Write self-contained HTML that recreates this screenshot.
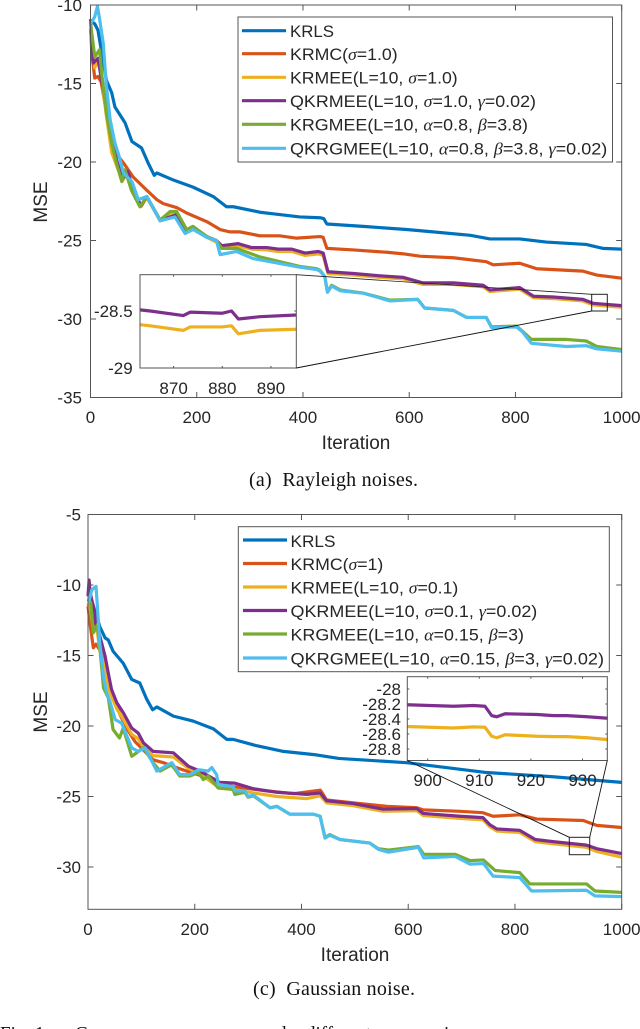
<!DOCTYPE html>
<html lang="en">
<head>
<meta charset="utf-8">
<title>MSE convergence curves</title>
<style>
html,body{margin:0;padding:0;background:#fff;width:640px;height:1029px;overflow:hidden}
svg{display:block;filter:blur(.3px)}
text{font-family:"Liberation Sans",sans-serif;fill:#262626;font-size:17px}
.g{font-family:"Liberation Serif",serif;font-style:italic}
.cap{font-family:"Liberation Serif",serif;font-size:20px;fill:#111}
.foot{font-family:"Liberation Serif",serif;font-size:19px;fill:#111}
.lab{font-size:19px}
</style>
</head>
<body>
<svg id="root" xmlns="http://www.w3.org/2000/svg" width="640" height="1029" viewBox="0 0 640 1029">
  <g id="chartA"></g>
  <g id="chartC"></g>

  <g>
    <rect x="238" y="17" width="374.5" height="145" fill="#fff" stroke="#555" stroke-width="1"/>
    <line x1="242" x2="286" y1="30.7" y2="30.7" stroke="#0072BD" stroke-width="3.2"/>
    <line x1="242" x2="286" y1="53.7" y2="53.7" stroke="#D95319" stroke-width="3.2"/>
    <line x1="242" x2="286" y1="77.3" y2="77.3" stroke="#EDB120" stroke-width="3.2"/>
    <line x1="242" x2="286" y1="100.7" y2="100.7" stroke="#7E2F8E" stroke-width="3.2"/>
    <line x1="242" x2="286" y1="124.3" y2="124.3" stroke="#77AC30" stroke-width="3.2"/>
    <line x1="242" x2="286" y1="148.3" y2="148.3" stroke="#4DBEEE" stroke-width="3.2"/>
    <text x="290" y="37" textLength="44" lengthAdjust="spacingAndGlyphs">KRLS</text>
    <text x="290" y="60" textLength="107.7" lengthAdjust="spacingAndGlyphs">KRMC(<tspan class="g">σ</tspan>=1.0)</text>
    <text x="290" y="83.6" textLength="167.7" lengthAdjust="spacingAndGlyphs">KRMEE(L=10, <tspan class="g">σ</tspan>=1.0)</text>
    <text x="290" y="107" textLength="246" lengthAdjust="spacingAndGlyphs">QKRMEE(L=10, <tspan class="g">σ</tspan>=1.0, <tspan class="g">γ</tspan>=0.02)</text>
    <text x="290" y="130.6" textLength="238" lengthAdjust="spacingAndGlyphs">KRGMEE(L=10, <tspan class="g">α</tspan>=0.8, <tspan class="g">β</tspan>=3.8)</text>
    <text x="290" y="154.6" textLength="317.3" lengthAdjust="spacingAndGlyphs">QKRGMEE(L=10, <tspan class="g">α</tspan>=0.8, <tspan class="g">β</tspan>=3.8, <tspan class="g">γ</tspan>=0.02)</text>
  </g>

  <g>
    <rect x="238.3" y="526.7" width="371" height="145" fill="#fff" stroke="#555" stroke-width="1"/>
    <line x1="243" x2="287" y1="540" y2="540" stroke="#0072BD" stroke-width="3.2"/>
    <line x1="243" x2="287" y1="563.5" y2="563.5" stroke="#D95319" stroke-width="3.2"/>
    <line x1="243" x2="287" y1="587" y2="587" stroke="#EDB120" stroke-width="3.2"/>
    <line x1="243" x2="287" y1="610.5" y2="610.5" stroke="#7E2F8E" stroke-width="3.2"/>
    <line x1="243" x2="287" y1="634" y2="634" stroke="#77AC30" stroke-width="3.2"/>
    <line x1="243" x2="287" y1="658" y2="658" stroke="#4DBEEE" stroke-width="3.2"/>
    <text x="290.5" y="547" textLength="45" lengthAdjust="spacingAndGlyphs">KRLS</text>
    <text x="290.5" y="570" textLength="92.8" lengthAdjust="spacingAndGlyphs">KRMC(<tspan class="g">σ</tspan>=1)</text>
    <text x="290.5" y="593.6" textLength="167.8" lengthAdjust="spacingAndGlyphs">KRMEE(L=10, <tspan class="g">σ</tspan>=0.1)</text>
    <text x="290.5" y="617" textLength="246.8" lengthAdjust="spacingAndGlyphs">QKRMEE(L=10, <tspan class="g">σ</tspan>=0.1, <tspan class="g">γ</tspan>=0.02)</text>
    <text x="290.5" y="640.6" textLength="233.5" lengthAdjust="spacingAndGlyphs">KRGMEE(L=10, <tspan class="g">α</tspan>=0.15, <tspan class="g">β</tspan>=3)</text>
    <text x="290.5" y="664.4" textLength="313.5" lengthAdjust="spacingAndGlyphs">QKRGMEE(L=10, <tspan class="g">α</tspan>=0.15, <tspan class="g">β</tspan>=3, <tspan class="g">γ</tspan>=0.02)</text>
  </g>

  <text class="lab" x="356" y="449" text-anchor="middle">Iteration</text>
  <text class="lab" transform="translate(47,202) rotate(-90)" text-anchor="middle">MSE</text>
  <text class="lab" x="355" y="961" text-anchor="middle">Iteration</text>
  <text class="lab" transform="translate(47,712) rotate(-90)" text-anchor="middle">MSE</text>

  <text class="cap" x="249" y="486" textLength="169" xml:space="preserve">(a)  Rayleigh noises.</text>
  <text class="cap" x="253" y="995" textLength="162" xml:space="preserve">(c)  Gaussian noise.</text>

  <g>
    <text class="foot" x="0" y="1039.5">Fig. 1.</text>
    <text class="foot" x="75" y="1039.5">Convergence</text>
    <text class="foot" x="185" y="1039.5">curves</text>
    <text class="foot" x="258" y="1039.5">under</text>
    <text class="foot" x="306" y="1039.5">different</text>
    <text class="foot" x="425" y="1039.5">noises</text>
  </g>
</svg>

<script>
/* ---------- Rayleigh chart data ---------- */
const aXTicks = [0,200,400,600,800,1000];
const aYTicks = [-10,-15,-20,-25,-30,-35];

const aIterKRLS = [0,8,14,22,30,40,46,65,78,96,109,120,125,156,193,231,256,269,319,344,394,432,439,445,513,595,645,715,752,808,858,933,964,1000];
const aMseKRLS = [-11,-11.2,-11.6,-13.2,-14.8,-15.6,-16.5,-17.5,-18.7,-19.1,-20.1,-20.85,-20.7,-21.15,-21.6,-22.2,-22.85,-22.85,-23.2,-23.3,-23.5,-23.55,-23.6,-23.95,-24.1,-24.3,-24.45,-24.67,-24.9,-24.9,-25.1,-25.25,-25.5,-25.55];

const aIterKRMC = [0,3,8,14,20,30,40,46,65,80,106,125,137,162,181,219,244,262,281,319,356,388,432,438,445,495,558,589,620,683,745,758,808,840,927,953,1000];
const aMseKRMC = [-11.5,-13.2,-14.65,-14.55,-14.9,-16.8,-18.6,-19.35,-20.2,-20.95,-21.8,-22.4,-22.65,-22.9,-23.25,-23.8,-24.3,-24.45,-24.45,-24.7,-24.7,-24.85,-24.75,-24.8,-25.5,-25.6,-25.75,-25.85,-26,-26.1,-26.35,-26.55,-26.45,-26.8,-26.95,-27.2,-27.4];

const aIterKRMEE = [0,4,8,14,18,24,30,40,50,60,70,80,95,106,131,150,162,181,193,219,237,247,278,303,332,353,379,404,429,438,447,495,545,589,626,683,739,752,808,834,871,927,946,1000];
const aMseKRMEE = [-11.5,-13,-14,-13.6,-13.9,-15.5,-17.1,-19.4,-20.3,-21.2,-20.7,-21.9,-22.85,-22.25,-23.75,-23.3,-23.25,-24.35,-24.15,-24.8,-25.1,-25.5,-25.35,-25.55,-25.6,-25.7,-25.7,-25.95,-25.85,-25.95,-27.1,-27.2,-27.35,-27.45,-27.8,-27.8,-27.95,-28.25,-28.1,-28.65,-28.7,-28.85,-29.1,-29.25];

const aIterQKRMEE = [0,5,14,21,30,40,50,60,70,80,95,106,131,150,162,181,193,219,237,247,278,303,332,353,379,404,429,438,447,451,495,545,589,626,683,739,752,808,834,871,927,946,1000];
const aMseQKRMEE = [-10.9,-13.7,-13.4,-14.8,-16.4,-18.7,-20,-21.1,-20.6,-21.7,-22.8,-22.2,-23.7,-23.5,-23.35,-24.35,-24.15,-24.75,-25,-25.33,-25.2,-25.45,-25.45,-25.55,-25.55,-25.8,-25.7,-25.8,-27,-27,-27.1,-27.25,-27.35,-27.7,-27.7,-27.85,-28.15,-28,-28.55,-28.6,-28.75,-29,-29.15];

const aIterKRGMEE = [0,8,17,21,30,40,49,59,65,77,93,106,131,150,162,181,193,219,237,247,275,319,394,426,432,441,446,454,470,513,564,616,629,683,708,745,755,802,814,830,896,933,953,1000];
const aMseKRGMEE = [-11.15,-13.3,-12.85,-14.35,-16.9,-18.8,-20.1,-21.25,-20.5,-21.8,-22.85,-22.2,-23.7,-23.15,-23.15,-24.3,-24.1,-24.75,-25,-25.5,-25.5,-26.05,-26.65,-26.8,-26.9,-27.3,-28.25,-27.85,-28.15,-28.35,-28.8,-28.75,-29.3,-29.45,-29.9,-29.9,-30.5,-30.45,-30.8,-31.3,-31.3,-31.4,-31.75,-31.95];

const aIterQKRGMEE = [0,2,8,13,17,24,30,37,46,54,62,78,90,106,131,159,178,193,219,237,244,275,306,394,426,432,441,446,454,470,513,564,616,629,683,708,745,755,802,814,830,896,933,953,1000];
const aMseQKRGMEE = [-11,-11.1,-10.75,-10.1,-10.85,-12.45,-15.2,-17.3,-18.8,-19.65,-20.7,-21.25,-22.4,-22.2,-23.75,-23.5,-24.55,-24.3,-24.8,-25,-25.9,-25.7,-26.15,-26.7,-26.85,-26.95,-27.3,-28.3,-27.9,-28.2,-28.35,-28.85,-28.75,-29.3,-29.45,-29.9,-29.9,-30.55,-30.5,-30.85,-31.55,-31.75,-31.7,-31.9,-32.05];

const aInsetXTicks = [870,880,890];
const aInsetYTicks = [-28.5,-29];
const aInsetIter = [863.1,865.2,872,873.4,879.9,881.9,883.3,887.7,895.2];
const aInsetQKRMEE = [-28.49,-28.5,-28.54,-28.51,-28.52,-28.5,-28.57,-28.55,-28.535];
const aInsetKRMEE = [-28.62,-28.63,-28.67,-28.64,-28.64,-28.63,-28.7,-28.67,-28.66];

/* ---------- Gaussian chart data ---------- */
const cXTicks = [0,200,400,600,800,1000];
const cYTicks = [-5,-10,-15,-20,-25,-30];

const cIterKRLS = [0,8,15,22,32,38,47,66,82,97,110,121,129,160,197,235,260,272,316,366,428,470,597,747,871,1000];
const cMseKRLS = [-11,-11.5,-12,-12.95,-13.75,-13.9,-14.7,-15.55,-16.7,-16.95,-18.1,-18.85,-18.65,-19.3,-19.65,-20.2,-20.95,-20.95,-21.4,-21.8,-22.05,-22.3,-22.6,-23.3,-23.6,-24];

const cIterKRMC = [0,4,10,15,22,32,44,60,73,88,122,141,166,185,210,247,272,335,385,435,438,447,497,560,616,628,697,740,759,809,841,928,953,1000];
const cMseKRMC = [-11.5,-12.8,-14.45,-14.2,-14.6,-15.8,-17.6,-19.2,-20.2,-21.1,-22.4,-22.6,-22.95,-23.2,-23.5,-24.15,-24.3,-24.6,-24.8,-24.55,-24.7,-25.25,-25.45,-25.7,-25.8,-25.95,-26.05,-26.15,-26.4,-26.3,-26.6,-26.7,-27.05,-27.2];

const cIterKRMEE = [0,5,10,15,22,32,41,54,66,82,94,104,122,160,188,210,247,272,310,354,410,435,447,497,553,616,628,697,740,753,766,809,838,871,934,953,1000];
const cMseKRMEE = [-11.3,-11.8,-13.2,-12.6,-14.6,-16,-17.6,-18.8,-19.5,-20.6,-20.9,-21.5,-22.1,-22.2,-23,-23.4,-24.4,-24.5,-24.75,-25,-25.15,-24.95,-25.45,-25.65,-26.05,-26,-26.35,-26.55,-26.65,-27.15,-27.45,-27.55,-28.2,-28.35,-28.6,-28.9,-29.3];

const cIterQKRMEE = [0,2,4,8,12,14,22,32,38,44,54,66,82,94,104,122,160,188,210,247,275,310,354,410,435,447,497,553,616,628,697,740,753,766,809,838,871,934,953,1000];
const cMseQKRMEE = [-10.8,-9.65,-10.55,-11.2,-11.75,-12.7,-13.6,-15.05,-16.25,-17.4,-18.35,-19.05,-20.15,-20.5,-21.2,-21.8,-21.9,-22.85,-23.2,-24,-24.05,-24.45,-24.7,-24.85,-24.75,-25.3,-25.5,-25.9,-25.85,-26.2,-26.4,-26.5,-27,-27.3,-27.4,-28.05,-28.2,-28.45,-28.7,-29.05];

const cIterKRGMEE = [0,5,10,18,26,29,38,47,59,66,82,104,122,135,157,172,191,207,216,225,244,272,275,294,300,310,341,354,378,422,435,444,453,472,528,544,563,619,629,688,716,741,763,809,828,934,950,1000];
const cMseKRGMEE = [-11,-11.25,-13.4,-12.8,-16,-17.3,-18,-20.25,-20.85,-20.15,-22.15,-21.55,-22.6,-23.2,-22.75,-23.55,-23.55,-23.3,-23.8,-23.55,-24.4,-24.5,-24.85,-24.7,-25.05,-24.95,-25.8,-25.7,-26.25,-26.25,-26.4,-27.9,-27.7,-28.05,-28.3,-28.7,-28.8,-28.55,-29.1,-29.1,-29.55,-29.5,-30.25,-30.4,-31.2,-31.2,-31.7,-31.8];

const cIterQKRGMEE = [0,2,7,15,18,22,29,35,41,51,63,82,94,107,129,157,172,191,207,225,232,241,244,272,275,294,300,310,341,354,378,422,435,444,453,472,528,544,563,619,629,688,716,741,759,809,831,934,950,1000];
const cMseQKRGMEE = [-11.2,-11.15,-10.35,-10.1,-11.75,-14.1,-16.5,-17.65,-18.25,-19.55,-19.8,-21.55,-21.8,-21.55,-23.2,-22.6,-23.45,-23.45,-23.1,-23.2,-22.95,-23.45,-24.15,-24.3,-24.6,-24.6,-25,-24.9,-25.8,-25.7,-26.25,-26.25,-26.4,-27.95,-27.75,-28.05,-28.3,-28.75,-28.95,-28.6,-29.35,-29.25,-29.8,-29.75,-30.65,-30.75,-31.7,-31.65,-32.05,-32.1];

const cInsetXTicks = [900,910,920,930];
const cInsetYTicks = [-28,-28.2,-28.4,-28.6,-28.8];
const cInsetIter = [896,900.4,905,908.9,911.1,912.4,913.4,915,921.2,924.4,927,930.9,934.9];
const cInsetQKRMEE = [-28.21,-28.22,-28.23,-28.22,-28.23,-28.355,-28.37,-28.33,-28.34,-28.355,-28.355,-28.37,-28.39];
const cInsetKRMEE = [-28.5,-28.51,-28.52,-28.505,-28.51,-28.63,-28.65,-28.61,-28.63,-28.635,-28.635,-28.65,-28.675];

/* ---------- Drawing ---------- */
const NS = 'http://www.w3.org/2000/svg';
const AXIS = '#555';
const LW = 3.2;

function scale(d0, d1, p0, p1) {
  return function (v) { return p0 + (v - d0) * (p1 - p0) / (d1 - d0); };
}
function make(parent, tag) {
  const el = document.createElementNS(NS, tag);
  parent.appendChild(el);
  return el;
}
function seg(parent, x1, y1, x2, y2, color, width) {
  const el = make(parent, 'line');
  el.setAttribute('x1', x1); el.setAttribute('y1', y1);
  el.setAttribute('x2', x2); el.setAttribute('y2', y2);
  el.setAttribute('stroke', color); el.setAttribute('stroke-width', width);
  return el;
}
function label(parent, x, y, anchor, str) {
  const el = make(parent, 'text');
  el.setAttribute('x', x); el.setAttribute('y', y);
  el.setAttribute('text-anchor', anchor);
  el.textContent = str;
  return el;
}
function curve(parent, xs, ys, sx, sy, color, width) {
  const el = make(parent, 'polyline');
  el.setAttribute('points', xs.map(function (v, i) { return sx(v).toFixed(2) + ',' + sy(ys[i]).toFixed(2); }).join(' '));
  el.setAttribute('fill', 'none');
  el.setAttribute('stroke', color);
  el.setAttribute('stroke-width', width);
  el.setAttribute('stroke-linejoin', 'round');
  return el;
}
function axes(parent, box, sx, sy, xt, yt, tickLen, xLabelY, yLabelX) {
  const frame = make(parent, 'rect');
  
  
  frame.setAttribute('x', box.l); frame.setAttribute('y', box.t);
  frame.setAttribute('width', box.r - box.l); frame.setAttribute('height', box.b - box.t);
  frame.setAttribute('fill', 'none'); frame.setAttribute('stroke', AXIS); frame.setAttribute('stroke-width', 1);
  xt.forEach(function (v) {
    const a = seg(parent, sx(v), box.b, sx(v), box.b - tickLen, AXIS, 1);
    
    
    const b = seg(parent, sx(v), box.t, sx(v), box.t + tickLen, AXIS, 1);
    
    
    const t = label(parent, sx(v), xLabelY, 'middle', String(v));
    
    
  });
  yt.forEach(function (v) {
    const a = seg(parent, box.l, sy(v), box.l + tickLen, sy(v), AXIS, 1);
    
    
    const b = seg(parent, box.r, sy(v), box.r - tickLen, sy(v), AXIS, 1);
    
    
    const t = label(parent, yLabelX, sy(v) + 6, 'end', String(v));
    
    
  });
}

/* Rayleigh chart */
(function () {
  const g = document.getElementById('chartA');
  const box = { l: 90.5, r: 621.7, t: 5, b: 397.5 };
  const sx = scale(0, 1000, box.l, box.r);
  const sy = scale(-10, -35, box.t, box.b);
  let p;
  p = curve(g, aIterKRLS, aMseKRLS, sx, sy, '#0072BD', LW);
  
  
  p = curve(g, aIterKRMC, aMseKRMC, sx, sy, '#D95319', LW);
  
  
  p = curve(g, aIterKRMEE, aMseKRMEE, sx, sy, '#EDB120', LW);
  
  
  p = curve(g, aIterQKRMEE, aMseQKRMEE, sx, sy, '#7E2F8E', LW);
  
  
  p = curve(g, aIterKRGMEE, aMseKRGMEE, sx, sy, '#77AC30', LW);
  
  
  p = curve(g, aIterQKRGMEE, aMseQKRGMEE, sx, sy, '#4DBEEE', LW);
  
  
  axes(g, box, sx, sy, aXTicks, aYTicks, 5.5, 423, 82);

  const ibox = { l: 140, r: 296.3, t: 274.7, b: 368 };
  const ix = scale(863.1, 895.2, ibox.l, ibox.r);
  const iy = scale(-28.5, -29, 311, 368);
  const bg = make(g, 'rect');
  
  
  bg.setAttribute('x', ibox.l); bg.setAttribute('y', ibox.t);
  bg.setAttribute('width', ibox.r - ibox.l); bg.setAttribute('height', ibox.b - ibox.t);
  bg.setAttribute('fill', '#fff');
  p = curve(g, aInsetIter, aInsetKRMEE, ix, iy, '#EDB120', LW);
  
  
  p = curve(g, aInsetIter, aInsetQKRMEE, ix, iy, '#7E2F8E', LW);
  
  
  axes(g, ibox, ix, iy, aInsetXTicks, aInsetYTicks, 2, 394, 132.7);

  let c;
  c = seg(g, 296.3, 274.7, 591.7, 294.3, '#222', 0.8);
  
  
  c = seg(g, 296.3, 368, 591.7, 311, '#111', 0.9);
  
  
  const z = make(g, 'rect');
  
  
  z.setAttribute('x', 591.7); z.setAttribute('y', 294.3);
  z.setAttribute('width', 15.6); z.setAttribute('height', 16.7);
  z.setAttribute('fill', 'none'); z.setAttribute('stroke', '#222'); z.setAttribute('stroke-width', 1);
})();

/* Gaussian chart */
(function () {
  const g = document.getElementById('chartC');
  const box = { l: 88, r: 621.7, t: 514.5, b: 909.3 };
  const sx = scale(0, 1000, box.l, box.r);
  const sy = scale(-5, -33, box.t, box.b);
  let p;
  p = curve(g, cIterKRLS, cMseKRLS, sx, sy, '#0072BD', LW);
  
  
  p = curve(g, cIterKRMC, cMseKRMC, sx, sy, '#D95319', LW);
  
  
  p = curve(g, cIterKRMEE, cMseKRMEE, sx, sy, '#EDB120', LW);
  
  
  p = curve(g, cIterQKRMEE, cMseQKRMEE, sx, sy, '#7E2F8E', LW);
  
  
  p = curve(g, cIterKRGMEE, cMseKRGMEE, sx, sy, '#77AC30', LW);
  
  
  p = curve(g, cIterQKRGMEE, cMseQKRGMEE, sx, sy, '#4DBEEE', LW);
  
  
  axes(g, box, sx, sy, cXTicks, cYTicks, 5.5, 935, 81);

  const ibox = { l: 407.3, r: 607.3, t: 676.7, b: 760.5 };
  const ix = scale(900, 930, 427.7, 582.5);
  const iy = scale(-28, -28.8, 689, 749);
  const bg = make(g, 'rect');
  
  
  bg.setAttribute('x', ibox.l); bg.setAttribute('y', ibox.t);
  bg.setAttribute('width', ibox.r - ibox.l); bg.setAttribute('height', ibox.b - ibox.t);
  bg.setAttribute('fill', '#fff');
  p = curve(g, cInsetIter, cInsetKRMEE, ix, iy, '#EDB120', LW);
  
  
  p = curve(g, cInsetIter, cInsetQKRMEE, ix, iy, '#7E2F8E', LW);
  
  
  axes(g, ibox, ix, iy, cInsetXTicks, cInsetYTicks, 2, 786, 401);

  let c;
  c = seg(g, 407.3, 760.5, 569.3, 837.3, '#111', 0.9);
  
  
  c = seg(g, 607.3, 760.5, 589.7, 837.3, '#111', 0.9);
  
  
  const z = make(g, 'rect');
  
  
  z.setAttribute('x', 569.3); z.setAttribute('y', 837.3);
  z.setAttribute('width', 20.4); z.setAttribute('height', 17.4);
  z.setAttribute('fill', 'none'); z.setAttribute('stroke', '#222'); z.setAttribute('stroke-width', 1);
})();
</script>
</body>
</html>
